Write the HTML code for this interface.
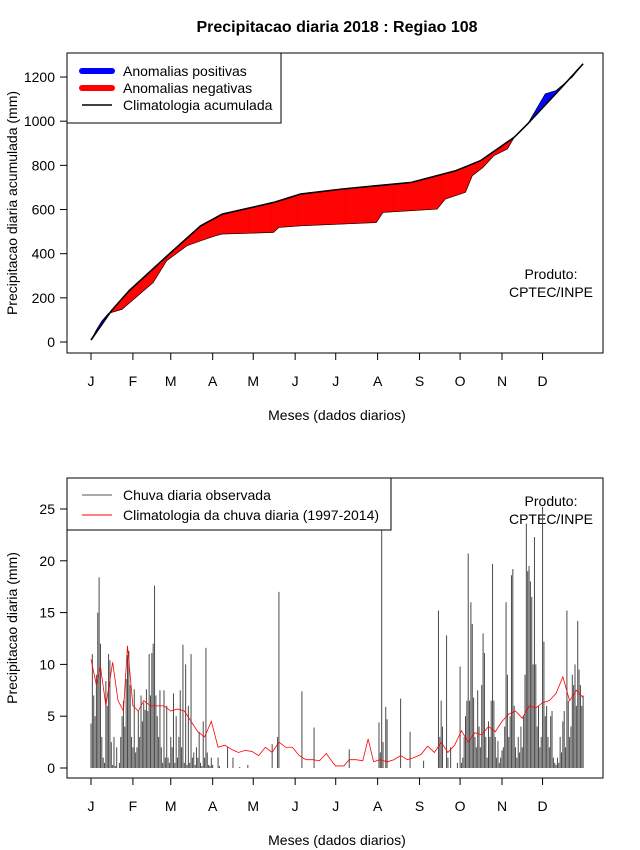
<!DOCTYPE html>
<html><head><meta charset="utf-8"><style>
html,body{margin:0;padding:0;background:#fff;}
svg{display:block;font-family:"Liberation Sans",sans-serif;}
</style></head><body>
<svg id="svg" width="640" height="850" viewBox="0 0 640 850">
<text x="337" y="32" text-anchor="middle" font-size="16" font-weight="bold">Precipitacao diaria 2018 : Regiao 108</text>
<g id="top"></g>
<g id="bot"></g>
</svg>
<script>
// ---- data ----
const monthLabels = ["J","F","M","A","M","J","J","A","S","O","N","D"];
const monthStartDays = [1,32,60,91,121,152,182,213,244,274,305,335];
const accTicks = [0,200,400,600,800,1000,1200];
const dailyTicks = [0,5,10,15,20,25];
const climAccDays = [1,16,29,60,82,98,136,156,187,238,271,289,314,324,347,365];
const climAccVals = [9,141,231,405,526,579,632,670,693,723,776,821,927,988,1139,1260];
const obsAccDays = [1,5,9,14,24,47,57,72,82,93,98,136,140,156,212,217,257,263,278,283,291,299,309,314,324,337,345,357,365];
const obsAccVals = [9,55,95,130,148,269,368,436,458,481,489,496,519,526,541,587,602,647,678,753,791,844,874,927,988,1124,1139,1200,1260];
const obsDaily = [
4.3,11,7,5,9,15,18.4,12,3,1,0.5,8.4,6,11,10.4,2.5,0.3,3,0.2,2,0,0.5,3,5,6.5,4,8.6,10.9,11.3,8,3,
2,7.6,1.5,2,5.5,3,7,4.5,6.3,5.6,7.6,5.5,11,7,11.1,12,17.6,7,5,3,7.5,2,0.5,7.5,1,6,1,0.5,
3,2,7.2,0.5,5,1,3,7.5,2,11.9,0.5,10,0.3,6,0.5,11,1,1.5,0.3,2,1,3.5,0.5,0.2,4.5,1,11.6,1.5,0.3,0.2,1,
0.3,0,0,0,1,0.2,0,0,0,0,0,2,0,0,0,1,0,0,0,0,0.1,0,0,0,0,0,0.3,0,0,0,
0,0,0,0,0,0,0,0,0,0,0,0,0,0,2.3,0,0,0,3,17,0,0,0,0,0,0,0,0,0,0,0,
0,0,0,0,0,7.4,0,0,0,0,0,0,0,0,3.9,0,0,0,0,0,0,0,0,0,0,0,0,0,0,0,
0,0,0,0,0,0,0,0,0,0,1.8,0,0,0,0,0,0,0,0,0,0,0,0,0,0,0,0,0,0,0,0,
0,4.4,1.5,27,2.5,0,5.9,4.7,0,0,0,0,0,0,0,0,0,6.7,0,0,0,0,0,0,3.5,0,0,0,0,0,0,
0,0,0,0.7,0,0,0,0,0,0,0,0,0,0,15.2,3,6.5,4,0,0,12.8,1,0,2,0,0,0,0,0.5,0,
9.8,0.5,1,3,5,6.5,20.7,6.5,16,13.9,6.8,3,2,7.5,4,2,8,13,11.1,3,1,4.5,3,6.5,19.7,6.5,3,1,2.6,0.5,1,
1.7,2,4,16,9,3,5,18.6,19.2,6,2,1,3,1.5,4,2,5,9,23.6,19,19.5,18,16.5,10,22.3,10,4,6,2,3,
25.2,12.2,5,6,3,2,5,5.5,1,0.5,0.3,1,0.5,3,1.5,4.5,5.5,2,15.2,6.5,3,4,9,8,10,6,14.2,9.5,8,6,7];
const climDailyDays = [1,5,8,12,17,21,25,28,32,36,40,45,50,55,60,65,70,75,80,85,90,95,100,105,110,115,120,125,130,135,140,145,150,155,160,165,170,175,180,182,188,192,197,202,206,210,215,220,225,230,235,240,245,250,255,260,265,270,275,280,285,290,295,300,305,310,315,320,325,330,335,340,345,350,355,360,365];
const climDailyVals = [10.5,8,9.8,6,10.2,6.5,5.5,11.8,6,5.5,6.5,6,6,6,5.5,5.7,5.5,4.5,3.5,3,4.5,2,2.2,1.8,1.5,1.7,1.6,1.2,2,1.5,2.5,2,2,1.2,0.8,0.8,0.7,1.4,0.5,0.2,0.2,0.8,0.8,0.7,2.8,0.6,0.8,0.6,0.8,1.2,0.8,1,1.3,2.1,1.5,2.5,1.5,2.2,3.6,2.5,3.4,3.2,4,3.5,4.5,5.2,5.5,4.8,6,5.8,6.3,6.5,7.2,8.8,6.5,7.5,6.8];

const NS="http://www.w3.org/2000/svg";
function mk(parent,tag,attrs,text){const e=document.createElementNS(NS,tag);for(const k in attrs)e.setAttribute(k,attrs[k]);if(text!==undefined)e.textContent=text;parent.appendChild(e);return e;}
const xDay = d => 91 + (d-1)*1.352;
function interp(ds,vs,d){if(d<=ds[0])return vs[0];for(let i=1;i<ds.length;i++){if(d<=ds[i]){const t=(d-ds[i-1])/(ds[i]-ds[i-1]);return vs[i-1]+t*(vs[i]-vs[i-1]);}}return vs[vs.length-1];}

function frame(g,top,yMap,ticks,ytitle,bottomLabelsY,prodOff){
  const b=mk(g,'rect',{x:67,y:top,width:536,height:300,fill:'none',stroke:'#000','stroke-width':1});
  
  
  ticks.forEach(t=>{const y=yMap(t);
    const l=mk(g,'line',{x1:60,x2:67,y1:y,y2:y,stroke:'#000'});
    
    
    const tx=mk(g,'text',{x:55,y:y+5,'text-anchor':'end','font-size':14},String(t));
    
    });
  monthStartDays.forEach((d,i)=>{const x=xDay(d);
    const l=mk(g,'line',{x1:x,x2:x,y1:top+300,y2:top+307,stroke:'#000'});
    
    
    const tx=mk(g,'text',{x:x,y:bottomLabelsY,'text-anchor':'middle','font-size':14},monthLabels[i]);
    
    });
  const at=mk(g,'line',{x1:xDay(1),x2:xDay(335),y1:top+300,y2:top+300,stroke:'#000'});
  
  
  const xt=mk(g,'text',{x:337,y:bottomLabelsY+34,'text-anchor':'middle','font-size':14},'Meses (dados diarios)');
  
  
  const yc=top+150;
  const yt=mk(g,'text',{x:17,y:yc,'text-anchor':'middle','font-size':14,transform:`rotate(-90 17 ${yc})`},ytitle);
  
  
  const p1=mk(g,'text',{x:551,y:top+prodOff,'text-anchor':'middle','font-size':14},'Produto:');
  
  
  const p2=mk(g,'text',{x:551,y:top+prodOff+18,'text-anchor':'middle','font-size':14},'CPTEC/INPE');
  
  
}

// ---- top panel ----
const gt=document.getElementById('top');
const yA = v => 342 - v*0.2208;
frame(gt,53,yA,accTicks,'Precipitacao diaria acumulada (mm)',386,226);
for(let d=1; d<365; d+=0.5){
  const c0=interp(climAccDays,climAccVals,d), c1=interp(climAccDays,climAccVals,d+0.5);
  const o0=interp(obsAccDays,obsAccVals,d), o1=interp(obsAccDays,obsAccVals,d+0.5);
  if(Math.abs(o0-c0)<0.5 && Math.abs(o1-c1)<0.5) continue;
  const col = (o0+o1) > (c0+c1) ? '#0000ff' : '#ff0000';
  const q=mk(gt,'polygon',{points:`${xDay(d)},${yA(c0)} ${xDay(d+0.5)},${yA(c1)} ${xDay(d+0.5)},${yA(o1)} ${xDay(d)},${yA(o0)}`,fill:col,stroke:col,'stroke-width':0.4});
  
  
}
let po='';obsAccDays.forEach((d,i)=>{po+=`${xDay(d)},${yA(obsAccVals[i])} `;});
const ol=mk(gt,'polyline',{points:po,fill:'none',stroke:'#000','stroke-width':0.6});


let pc='';climAccDays.forEach((d,i)=>{pc+=`${xDay(d)},${yA(climAccVals[i])} `;});
const cl=mk(gt,'polyline',{points:pc,fill:'none',stroke:'#000','stroke-width':1.6});


// legend top
const lg=mk(gt,'g',{});


mk(lg,'rect',{x:67,y:53,width:214,height:70,fill:'#fff',stroke:'#000'});
[['#0000ff',6,'Anomalias positivas',71],['#ff0000',6,'Anomalias negativas',88],['#000',1.5,'Climatologia acumulada',105]].forEach(e=>{
  const li=mk(lg,'line',{x1:82,x2:112,y1:e[3],y2:e[3],stroke:e[0],'stroke-width':e[1],'stroke-linecap':e[1]>2?'round':'butt'});
  
  
  const t=mk(lg,'text',{x:123,y:e[3]+5,'font-size':14},e[2]);
  
  
});

// ---- bottom panel ----
const gb=document.getElementById('bot');
const yD = v => 768 - v*10.36;
frame(gb,478,yD,dailyTicks,'Precipitacao diaria (mm)',811,28);
const clipR=mk(gb,'clipPath',{id:'cb'});mk(clipR,'rect',{x:67,y:478,width:536,height:300});
const bars=mk(gb,'g',{'clip-path':'url(#cb)'});
obsDaily.forEach((v,i)=>{const x=xDay(i+1);
  const b=mk(bars,'line',{x1:x,x2:x,y1:yD(0),y2:yD(v),stroke:'#4a4a4a','stroke-width':1});
  
  
});
let pd='';climDailyDays.forEach((d,i)=>{pd+=`${xDay(d)},${yD(climDailyVals[i])} `;});
const dl=mk(gb,'polyline',{points:pd,fill:'none',stroke:'#ff0000','stroke-width':0.8});


const lg2=mk(gb,'g',{});


mk(lg2,'rect',{x:67,y:478,width:324,height:52,fill:'#fff',stroke:'#000'});
[['#555','Chuva diaria observada',495],['#ff0000','Climatologia da chuva diaria (1997-2014)',515]].forEach(e=>{
  const li=mk(lg2,'line',{x1:82,x2:112,y1:e[2],y2:e[2],stroke:e[0],'stroke-width':1});
  
  
  const t=mk(lg2,'text',{x:123,y:e[2]+5,'font-size':14},e[1]);
  
  
});
</script>
</body></html>
